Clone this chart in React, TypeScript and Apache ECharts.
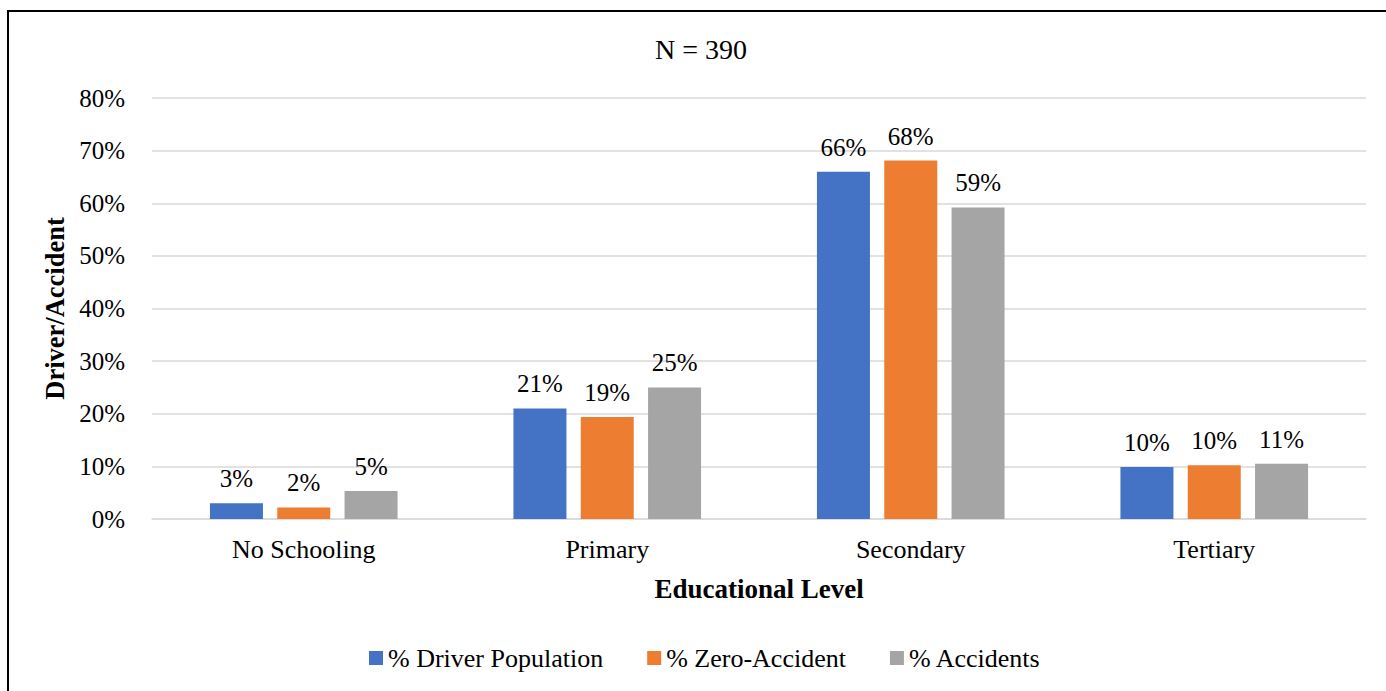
import React, { useEffect, useRef } from "react";
import * as echarts from "echarts";

const categories = ["No Schooling", "Primary", "Secondary", "Tertiary"];
const driverPopulation = [3.0, 21.0, 66.0, 9.9];
const zeroAccident = [2.2, 19.4, 68.1, 10.2];
const accidents = [5.3, 25.0, 59.2, 10.5];
const seriesNames = ["% Driver Population", "% Zero-Accident", "% Accidents"];
const colors = ["#4472C4", "#ED7D31", "#A5A5A5"];
const font = "Liberation Serif";

export default function App() {
  const ref = useRef<HTMLDivElement>(null);
  useEffect(() => {
    if (!ref.current) return;
    const chart = echarts.init(ref.current, null, { renderer: "svg" });
    const label = {
      show: true,
      position: "top",
      distance: 12,
      color: "#000",
      fontFamily: font,
      fontSize: 25,
      formatter: (p: any) => Math.round(p.value) + "%",
    };
    const data = [driverPopulation, zeroAccident, accidents];
    chart.setOption({
      animation: false,
      textStyle: { fontFamily: font },
      graphic: [
        {
          type: "rect",
          shape: { x: 8, y: 11, width: 1400, height: 720 },
          style: { fill: "none", stroke: "#000", lineWidth: 2 },
          silent: true,
        },
      ],
      title: {
        text: "N = 390",
        left: 696,
        textAlign: "center",
        top: 30,
        textStyle: { fontFamily: font, fontSize: 28, fontWeight: "normal", color: "#000" },
      },
      legend: {
        left: 364,
        top: 640,
        itemWidth: 14,
        itemHeight: 14,
        itemGap: 44,
        icon: "rect",
        textStyle: { fontFamily: font, fontSize: 26, color: "#000" },
        data: seriesNames,
      },
      grid: { left: 152, right: 20, top: 98, bottom: 172 },
      xAxis: {
        type: "category",
        data: categories,
        name: "Educational Level",
        nameLocation: "middle",
        nameGap: 56,
        nameTextStyle: { fontFamily: font, fontSize: 27, fontWeight: "bold", color: "#000" },
        axisLine: { show: true, lineStyle: { color: "#D9D9D9", width: 1.5 } },
        axisTick: { show: false },
        axisLabel: { fontFamily: font, fontSize: 26, color: "#000", margin: 17 },
      },
      yAxis: {
        type: "value",
        min: 0,
        max: 80,
        interval: 10,
        name: "Driver/Accident",
        nameLocation: "middle",
        nameGap: 81,
        nameTextStyle: { fontFamily: font, fontSize: 26.5, fontWeight: "bold", color: "#000" },
        axisLine: { show: false },
        axisTick: { show: false },
        axisLabel: { fontFamily: font, fontSize: 25, color: "#000", margin: 27, formatter: "{value}%" },
        splitLine: { lineStyle: { color: "#D9D9D9", width: 1.5 } },
      },
      series: seriesNames.map((name, i) => ({
        name,
        type: "bar",
        data: data[i],
        barWidth: 53,
        barGap: "27%",
        itemStyle: { color: colors[i] },
        label,
      })),
    });
    return () => chart.dispose();
  }, []);
  return (
    <div
      ref={ref}
      style={{ position: "fixed", left: 0, top: 0, width: 1386, height: 691, background: "#fff" }}
    />
  );
}
